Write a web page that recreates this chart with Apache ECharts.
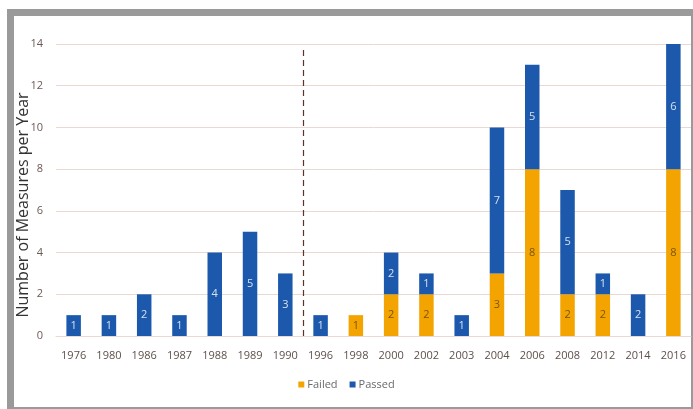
<!DOCTYPE html>
<html>
<head>
<meta charset="utf-8">
<script src="https://cdn.jsdelivr.net/npm/echarts@6/dist/echarts.min.js"></script>
<style>
  html, body { margin: 0; padding: 0; background: #ffffff; overflow: hidden; }
  #frame {
    position: absolute; left: 7px; top: 9px;
    width: 691px; height: 405px; box-sizing: border-box;
    border: 7px solid #9a9a9a; background: #ffffff;
  }
  #chart { position: absolute; left: 0; top: 0; width: 693px; height: 409px; }
</style>
</head>
<body>
<div id="frame"></div>
<div id="chart"></div>
<script>
// Ballot measures per year, split by outcome
const years = ['1976', '1980', '1986', '1987', '1988', '1989', '1990', '1996', '1998',
               '2000', '2002', '2003', '2004', '2006', '2008', '2012', '2014', '2016'];
const failed = [0, 0, 0, 0, 0, 0, 0, 0, 1, 2, 2, 0, 3, 8, 2, 2, 0, 8];
const passed = [1, 1, 2, 1, 4, 5, 3, 1, 0, 2, 1, 1, 7, 5, 5, 1, 2, 6];
const yTicks = { min: 0, max: 14, interval: 2 };
const yTitle = 'Number of Measures per Year';
// divider sits between 1990 and 1996 (category index 6.5)
const dividerAt = 6.5;
const dividerTop = 13.75;

const FONT = '"Open Sans", "Noto Sans", sans-serif';
const chart = echarts.init(document.getElementById('chart'), null, { renderer: 'canvas' });

const hideZero = p => (p.value ? String(p.value) : '');

chart.setOption({
  backgroundColor: 'transparent',
  animation: false,
  grid: { left: 56, right: 2, top: 44, bottom: 73, containLabel: false },
  legend: {
    bottom: 14, left: 'center',
    icon: 'rect', itemWidth: 6, itemHeight: 6, itemGap: 12,
    textStyle: { fontFamily: FONT, fontSize: 11, color: '#6a6a6a', padding: [0, 0, 0, -2] },
    data: ['Failed', 'Passed']
  },
  graphic: [{
    type: 'text', x: 23, y: 205, rotation: Math.PI / 2,
    style: {
      text: yTitle, fontFamily: FONT, fontSize: 16, fill: '#333333',
      align: 'center', verticalAlign: 'middle'
    }
  }],
  xAxis: [
    {
      type: 'category', data: years,
      axisLine: { show: true, lineStyle: { color: '#ead8d3', width: 1 } },
      axisTick: { show: false },
      axisLabel: { fontFamily: FONT, fontSize: 11, color: '#5e504b', margin: 14, interval: 0 }
    },
    {
      type: 'value', min: -0.5, max: years.length - 0.5, show: false
    }
  ],
  yAxis: {
    type: 'value', min: yTicks.min, max: yTicks.max, interval: yTicks.interval,
    axisLine: { show: false }, axisTick: { show: false },
    axisLabel: { fontFamily: FONT, fontSize: 11, color: '#6b5a55', margin: 13 },
    splitLine: { lineStyle: { color: '#ead8d3', width: 1 } }
  },
  series: [
    {
      name: 'Failed', type: 'bar', stack: 'm', data: failed, barWidth: 14.5,
      itemStyle: { color: '#f4a400' },
      label: { show: true, position: 'inside', formatter: hideZero,
               fontFamily: FONT, fontSize: 11, color: '#7a5508' }
    },
    {
      name: 'Passed', type: 'bar', stack: 'm', data: passed, barWidth: 14.5,
      itemStyle: { color: '#1c59ac' },
      label: { show: true, position: 'inside', formatter: hideZero,
               fontFamily: FONT, fontSize: 11, color: '#d6e0f0' }
    },
    {
      type: 'line', xAxisIndex: 1, data: [], silent: true,
      markLine: {
        symbol: 'none', silent: true, label: { show: false },
        lineStyle: { color: '#5e3326', type: [6, 4], width: 1.2 },
        data: [[{ coord: [dividerAt, 0] }, { coord: [dividerAt, dividerTop] }]]
      }
    }
  ]
});
</script>
</body>
</html>
